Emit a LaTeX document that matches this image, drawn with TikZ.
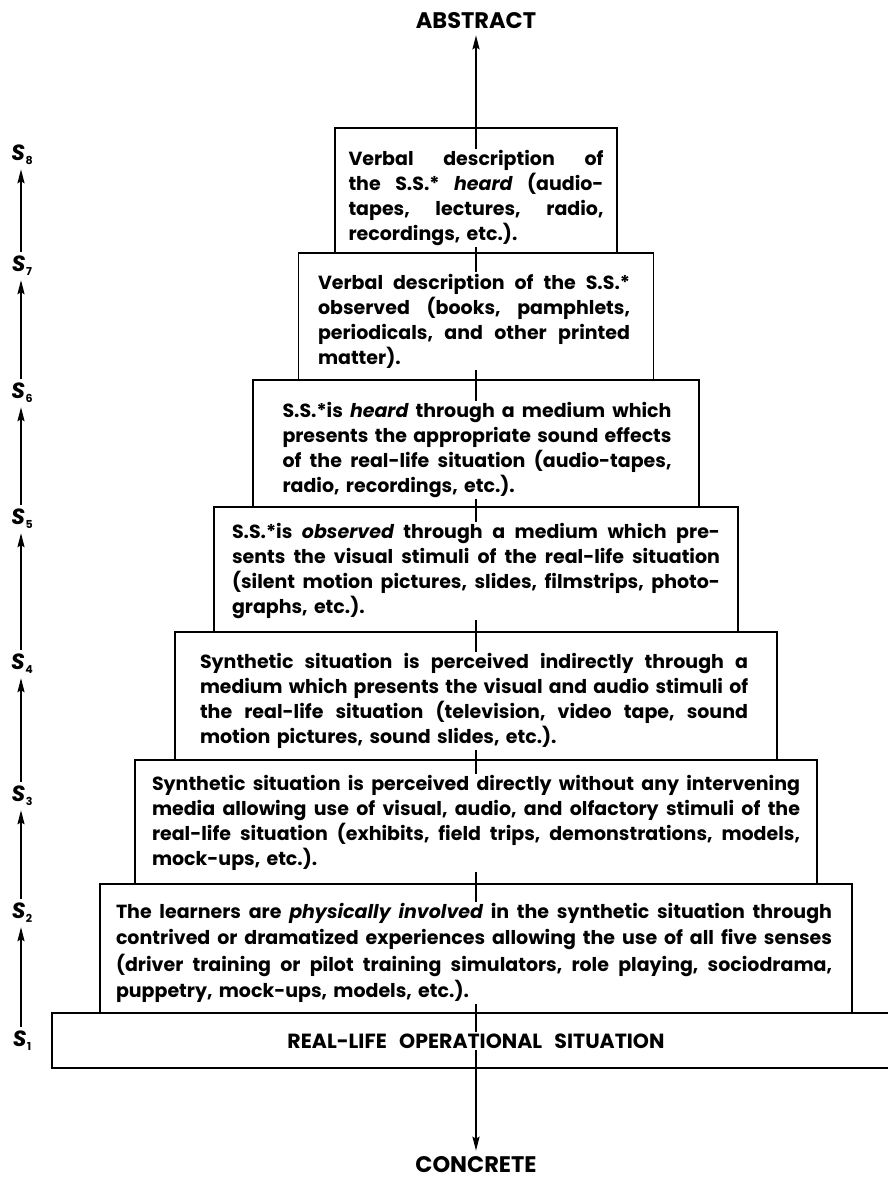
\documentclass[tikz,border=0pt]{standalone}
\usepackage{fontspec}
\setmainfont{Poppins}
\usetikzlibrary{arrows.meta}
\newsavebox\linebox
\newcommand\jl[1]{\sbox\linebox{#1}\ifdim\wd\linebox>\linewidth\resizebox{\linewidth}{\height}{#1}\else\hbox to\linewidth{\spaceskip=0.28em plus 1fil\xspaceskip=0.28em plus 1fil\relax #1}\fi\par}
\newcommand\lastl[1]{\sbox\linebox{#1}\ifdim\wd\linebox>\linewidth\resizebox{\linewidth}{\height}{#1}\else\mbox{#1}\fi\par}
\tikzset{
  box/.style={draw, line width=1.8pt, minimum width=#1, inner sep=0pt, outer sep=0pt},
  txt/.style={fill=white, inner sep=1.5pt, text width=#1, font=\bfseries\fontsize{19}{25}\selectfont},
  axis/.style={line width=1.8pt},
  arr/.style={line width=1.8pt, -{Stealth[length=14pt,width=7pt,inset=2pt]}},
  endlabel/.style={font=\bfseries\fontsize{22.5}{24}\selectfont, inner sep=1pt},
  slab/.style={font=\bfseries\fontsize{22}{24}\selectfont, inner sep=1pt}
}
\newcommand\Sl[1]{\itshape S\kern0.5pt\raisebox{-0.35ex}{\upshape\fontsize{11}{11}\selectfont #1}}
\begin{document}
\begin{tikzpicture}[x=1pt,y=-1pt]
\useasboundingbox (0,0) rectangle (887,1185);
\frenchspacing
% boxes
\node[box=282pt, minimum height=125pt] (b8) at (476,190.5) {};
\node[box=355pt, minimum height=127pt] (b7) at (476,316.5) {};
\node[box=446pt, minimum height=127pt] (b6) at (476,443.5) {};
\node[box=524pt, minimum height=125pt] (b5) at (476,569.5) {};
\node[box=602pt, minimum height=128pt] (b4) at (476,696) {};
\node[box=682pt, minimum height=124pt] (b3) at (476,822) {};
\node[box=752pt, minimum height=129pt] (b2) at (476,948.5) {};
\node[box=848pt, minimum height=55pt] (b1) at (476,1040.5) {};
% centre axis
\draw[axis] (b1.south) -- (b8.north);
% texts
\node[txt=255pt] (t8) at (476,198) {%
\jl{Verbal description of}
\jl{the S.S.* {\itshape heard} (audio-}
\jl{tapes, lectures, radio,}
\lastl{recordings, etc.).}};
\node[txt=312pt] (t7) at (474,321) {%
\jl{Verbal description of the S.S.*}
\jl{observed (books, pamphlets,}
\jl{periodicals, and other printed}
\lastl{matter).}};
\node[txt=389pt] (t6) at (477,450) {%
\jl{S.S.*is {\itshape heard} through a medium which}
\jl{presents the appropriate sound effects}
\jl{of the real-life situation (audio-tapes,}
\lastl{radio, recordings, etc.).}};
\node[txt=488pt] (t5) at (476,571) {%
\jl{S.S.*is {\itshape observed} through a medium which pre-}
\jl{sents the visual stimuli of the real-life situation}
\jl{(silent motion pictures, slides, filmstrips, photo-}
\lastl{graphs, etc.).}};
\node[txt=548pt] (t4) at (474,701) {%
\jl{Synthetic situation is perceived indirectly through a}
\jl{medium which presents the visual and audio stimuli of}
\jl{the real-life situation (television, video tape, sound}
\lastl{motion pictures, sound slides, etc.).}};
\node[txt=648pt] (t3) at (476,823) {%
\jl{Synthetic situation is perceived directly without any intervening}
\jl{media allowing use of visual, audio, and olfactory stimuli of the}
\jl{real-life situation (exhibits, field trips, demonstrations, models,}
\lastl{mock-ups, etc.).}};
\node[txt=716pt, font=\bfseries\fontsize{19}{26.5}\selectfont] (t2) at (474,953) {%
\jl{The learners are {\itshape physically involved} in the synthetic situation through}
\jl{contrived or dramatized experiences allowing the use of all five senses}
\jl{(driver training or pilot training simulators, role playing, sociodrama,}
\lastl{puppetry, mock-ups, models, etc.).}};
\node[fill=white, inner sep=1.5pt, font=\bfseries\fontsize{20.5}{22}\selectfont] (t1) at (476,1041) {REAL-LIFE\hspace{0.6em}OPERATIONAL\hspace{0.6em}SITUATION};
% top and bottom captions
\node[endlabel] (abs) at (476,21) {ABSTRACT};
\node[endlabel] (con) at (476,1165) {CONCRETE};
\draw[arr, shorten >=5pt] (b8.north) -- (abs.south);
\draw[arr, shorten >=5pt] (b1.south) -- (con.north);
% stage labels
\node[slab] (s8) at (22,155) {\Sl{8}};
\node[slab] (s7) at (22,266) {\Sl{7}};
\node[slab] (s6) at (22,393) {\Sl{6}};
\node[slab] (s5) at (22,519) {\Sl{5}};
\node[slab] (s4) at (22,664) {\Sl{4}};
\node[slab] (s3) at (22,796) {\Sl{3}};
\node[slab] (s2) at (22,913) {\Sl{2}};
\node[slab] (s1) at (22,1041) {\Sl{1}};
\foreach \a/\b in {s1/s2,s2/s3,s3/s4,s4/s5,s5/s6,s6/s7,s7/s8}
  \draw[arr, shorten <=3pt, shorten >=3pt] ([xshift=-1pt]\a.north) -- ([xshift=-1pt]\b.south);
\end{tikzpicture}
\end{document}
